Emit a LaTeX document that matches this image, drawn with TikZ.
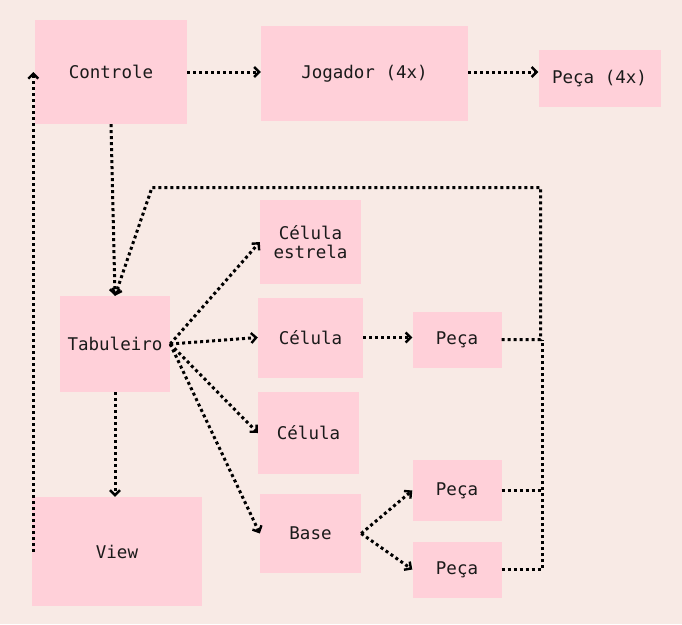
\documentclass[tikz,border=0pt]{standalone}
\usepackage{fontspec}
\setmonofont{DejaVu Sans Mono}
\usetikzlibrary{arrows.meta}
\definecolor{bgc}{HTML}{F8EAE5}
\definecolor{boxc}{HTML}{FFD0D9}
\definecolor{txt}{HTML}{1A1A1A}
\tikzset{
  box/.style={rectangle, fill=boxc, draw=none, inner sep=0pt, align=center, text=txt,
    font=\ttfamily\fontsize{17.5}{19.5}\selectfont},
  conn/.style={line width=3pt, dash pattern=on 3pt off 3pt, black},
  arr/.style={conn, -{Straight Barb[length=5pt,width=10pt,line width=2.4pt]}}
}
\begin{document}
\begin{tikzpicture}[x=1pt,y=-1pt]
\fill[bgc] (0,0) rectangle (682,624);
\useasboundingbox (0,0) rectangle (682,624);
% nodes
\node[box, minimum width=152pt, minimum height=104pt] (ctrl) at (111,72) {Controle};
\node[box, minimum width=207pt, minimum height=95pt] (jog) at (364.5,73.5) {Jogador (4x)};
\node[box, minimum width=122pt, minimum height=57pt] (p4) at (599.5,78.5) {Peça (4x)};
\node[box, minimum width=101pt, minimum height=84pt] (est) at (310.5,242) {Célula\\estrela};
\node[box, minimum width=110pt, minimum height=96pt] (tab) at (115,344) {Tabuleiro};
\node[box, minimum width=105pt, minimum height=80pt] (cel1) at (310.5,337.5) {Célula};
\node[box, minimum width=101pt, minimum height=82pt] (cel2) at (308.5,433) {Célula};
\node[box, minimum width=101pt, minimum height=79pt] (base) at (310.5,533.5) {Base};
\node[box, minimum width=89pt, minimum height=56pt] (p1) at (457,339.5) {Peça};
\node[box, minimum width=89pt, minimum height=61pt] (p2) at (457,490.5) {Peça};
\node[box, minimum width=89pt, minimum height=56pt] (p3) at (457,569.5) {Peça};
\node[box, minimum width=170pt, minimum height=109pt] (view) at (117,551.5) {View};
% junction coordinates
\coordinate (jA) at (540.5,339.5);
\coordinate (jB) at (542.5,490.5);
\coordinate (jC) at (542.5,569.5);
\coordinate (tr) at (540.5,187.5);
\coordinate (tl) at (152,187.5);
% connectors
\draw[arr] (ctrl.east) -- (ctrl.east -| jog.west);
\draw[arr] ([yshift=1.5pt]jog.east) -- ([yshift=1.5pt]jog.east -| p4.west);
\draw[arr] (ctrl.south) -- (tab.north);
\draw[arr] (tab.south) -- (tab.south |- view.north);
\draw[arr] ([xshift=1.5pt]view.west) -- ([xshift=1.5pt]view.west |- ctrl.west);
\draw[arr] (tab.east) -- (est.west);
\draw[arr] (tab.east) -- (cel1.west);
\draw[arr] (tab.east) -- (cel2.west);
\draw[arr] (tab.east) -- (base.west);
\draw[arr] (cel1.east) -- (cel1.east -| p1.west);
\draw[arr] (base.east) -- (p2.west);
\draw[arr] (base.east) -- (p3.west);
\draw[arr] (p1.east) -- (jA) -- (tr) -- (tl) -- (tab.north);
\draw[conn] (p2.east) -- (jB);
\draw[conn] (p3.east) -- (jC) -- (jA -| jC);
\end{tikzpicture}
\end{document}
